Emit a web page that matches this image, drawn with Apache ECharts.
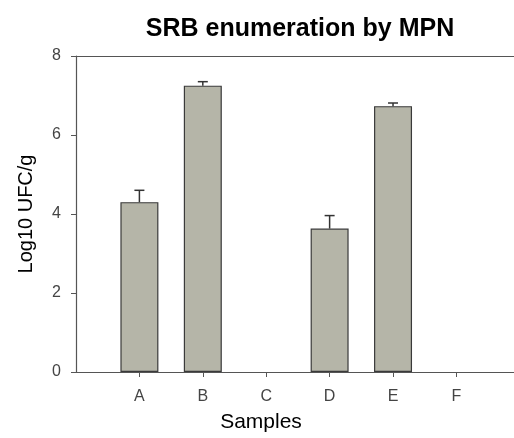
<!DOCTYPE html>
<html>
<head>
<meta charset="utf-8">
<script src="https://cdn.jsdelivr.net/npm/echarts@6/dist/echarts.min.js"></script>
<style>html,body{margin:0;padding:0;background:#fff}#c{width:514px;height:438px}</style>
</head>
<body>
<div id="c"></div>
<script>
var categories = ['A', 'B', 'C', 'D', 'E', 'F'];
var values = [4.3, 7.25, 0, 3.63, 6.73, 0];
var errors = [0.3, 0.1, 0, 0.33, 0.08, 0];
var yTicks = [0, 2, 4, 6, 8];

// samples sit at positions 1..6 on a numeric x scale (frame runs past the canvas edge)
var positions = categories.map(function (c, i) { return i + 1; });
var barData = [];
var errData = [];
categories.forEach(function (c, i) {
  if (values[i] > 0) {
    barData.push([positions[i], values[i]]);
    errData.push([positions[i], values[i], errors[i]]);
  }
});

var font = 'Liberation Sans, Arial, sans-serif';
var chart = echarts.init(document.getElementById('c'), null, { renderer: 'canvas' });
chart.setOption({
  animation: false,
  backgroundColor: '#fff',
  title: {
    text: 'SRB enumeration by MPN',
    left: 295, top: 12, textAlign: 'center',
    textStyle: { fontFamily: font, fontSize: 25, fontWeight: 'bold', color: '#000' }
  },
  grid: { left: 76, top: 56, width: 438, height: 321, containLabel: false },
  xAxis: [{
    type: 'value', min: 0, max: 6.908, interval: 1,
    axisLine: { show: true, lineStyle: { color: '#555', width: 1.2 } },
    axisTick: { show: true, length: 5, lineStyle: { color: '#555' }, customValues: positions },
    splitLine: { show: false },
    axisLabel: { margin: 17, fontFamily: font, fontSize: 16, color: '#444',
      customValues: positions,
      formatter: function (v) { return categories[Math.round(v) - 1] || ''; } },
    name: 'Samples', nameLocation: 'middle', nameGap: 40,
    nameTextStyle: { fontFamily: font, fontSize: 21, color: '#000', padding: [0, 68, 0, 0] }
  }, {
    type: 'value', position: 'top', min: 0, max: 6.908,
    axisLine: { show: true, lineStyle: { color: '#555', width: 1.2 } },
    axisTick: { show: false }, axisLabel: { show: false }, splitLine: { show: false }
  }],
  yAxis: {
    type: 'value', min: 0, max: 8, interval: 2,
    axisLine: { show: true, lineStyle: { color: '#555', width: 1.2 } },
    axisTick: { show: true, length: 5, lineStyle: { color: '#555' } },
    splitLine: { show: false },
    axisLabel: { margin: 15, fontFamily: font, fontSize: 16, color: '#444',
      formatter: function (v) { return yTicks.indexOf(v) >= 0 ? String(v) : ''; } },
    name: 'Log10 UFC/g', nameLocation: 'middle', nameGap: 40,
    nameTextStyle: { fontFamily: font, fontSize: 20, color: '#000' }
  },
  series: [{
    type: 'bar',
    data: barData,
    barWidth: 38,
    itemStyle: { color: '#b5b5a8', borderColor: '#3a3a3a', borderWidth: 1.2 },
    z: 2
  }, {
    type: 'custom',
    data: errData,
    z: 3,
    renderItem: function (params, api) {
      var x = api.value(0), v = api.value(1), e = api.value(2);
      var top = api.coord([x, v + e]);
      var base = api.coord([x, v]);
      var hw = 5;
      var st = { stroke: '#333', lineWidth: 1.5 };
      return {
        type: 'group',
        children: [
          { type: 'line', shape: { x1: top[0], y1: top[1], x2: base[0], y2: base[1] }, style: st },
          { type: 'line', shape: { x1: top[0] - hw, y1: top[1], x2: top[0] + hw, y2: top[1] }, style: st }
        ]
      };
    }
  }]
});
</script>
</body>
</html>
